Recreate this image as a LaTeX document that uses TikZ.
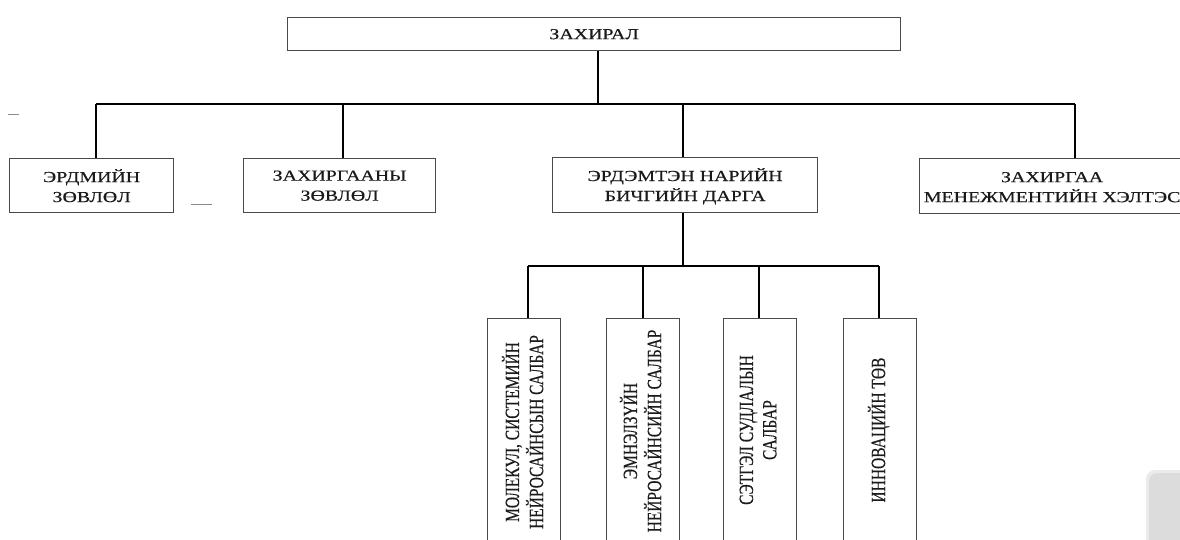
\documentclass[tikz,border=0pt]{standalone}
\usepackage{fontspec}
\setmainfont{Liberation Serif}[FakeStretch=1.3,FakeBold=0.4]
\newfontfamily\plainserif{Liberation Serif}[FakeBold=0.4]
\usepackage{graphicx}
\definecolor{txt}{HTML}{1A1A1A}
\definecolor{bord}{HTML}{4A4A4A}
\definecolor{dashc}{HTML}{8A8A8A}
\definecolor{panel}{HTML}{DCDCDC}
\tikzset{
  box/.style={draw=bord, line width=1.3pt, fill=white},
  conn/.style={draw=black, line width=1.8pt},
  htext/.style={text=txt, font=\fontsize{15.3}{20}\selectfont, align=center, inner sep=0pt},
  vtext/.style={text=txt, inner sep=0pt},
}
\newcommand{\vlabel}[1]{\scalebox{1.3}[1]{\rotatebox{90}{\plainserif\fontsize{15.5}{18}\selectfont\begin{tabular}{@{}c@{}}#1\end{tabular}}}}
\begin{document}
\begin{tikzpicture}[x=1pt,y=-1pt]
\useasboundingbox (0,0) rectangle (1180,540);
\clip (0,0) rectangle (1180,540);
\fill[white] (0,0) rectangle (1180,540);
% top box
\node[box, minimum width=613pt, minimum height=33pt, anchor=north west] (zax) at (287,17) {};
\node[htext] (zaxt) at (zax.center) {ЗАХИРАЛ};
% level 2 boxes
\node[box, minimum width=164pt, minimum height=54pt, anchor=north west] (b1) at (9,158) {};
\node[htext] (b1t) at (b1.center) {ЭРДМИЙН\\ЗӨВЛӨЛ};
\node[box, minimum width=192pt, minimum height=54pt, anchor=north west] (b2) at (243,158) {};
\node[htext] (b2t) at (b2.center) {ЗАХИРГААНЫ\\ЗӨВЛӨЛ};
\node[box, minimum width=265pt, minimum height=55pt, anchor=north west] (b3) at (552,157) {};
\node[htext] (b3t) at ([yshift=-1pt]b3.center) {ЭРДЭМТЭН НАРИЙН\\БИЧГИЙН ДАРГА};
\node[box, minimum width=265pt, minimum height=55pt, anchor=north west] (b4) at (919,158) {};
\node[htext] (b4t) at ([yshift=-1pt]b4.center) {ЗАХИРГАА\\МЕНЕЖМЕНТИЙН ХЭЛТЭС};
% level 3 boxes
\node[box, minimum width=73pt, minimum height=250pt, anchor=north west] (c1) at (487,318) {};
\node[box, minimum width=73pt, minimum height=250pt, anchor=north west] (c2) at (606,318) {};
\node[box, minimum width=73pt, minimum height=250pt, anchor=north west] (c3) at (723,318) {};
\node[box, minimum width=73pt, minimum height=250pt, anchor=north west] (c4) at (843,318) {};
\node[vtext] (c1t) at (526,432) {\vlabel{МОЛЕКУЛ, СИСТЕМИЙН\\НЕЙРОСАЙНСЫН САЛБАР}};
\node[vtext] (c2t) at (644,431) {\vlabel{ЭМНЭЛЗҮЙН\\НЕЙРОСАЙНСИЙН САЛБАР}};
\node[vtext] (c3t) at (760,430) {\vlabel{СЭТГЭЛ СУДЛАЛЫН\\САЛБАР}};
\node[vtext] (c4t) at (880,430) {\vlabel{ИННОВАЦИЙН ТӨВ}};
% bus coordinates
\coordinate (top) at (598,104);
\coordinate (d1) at (96,104);
\coordinate (d2) at (343,104);
\coordinate (d3) at (683,104);
\coordinate (d4) at (1075,104);
\coordinate (s0) at (683,266);
\coordinate (e1) at (528,266);
\coordinate (e2) at (643,266);
\coordinate (e3) at (759,266);
\coordinate (e4) at (879,266);
% connectors
\draw[conn] (top |- zax.south) -- (top);
\draw[conn] (d1) -- (d4);
\draw[conn] (d1) -- (d1 |- b1.north);
\draw[conn] (d2) -- (d2 |- b2.north);
\draw[conn] (d3) -- (d3 |- b3.north);
\draw[conn] (d4) -- (d4 |- b4.north);
\draw[conn] (s0 |- b3.south) -- (s0);
\draw[conn] (e1) -- (e4);
\draw[conn] (e1) -- (e1 |- c1.north);
\draw[conn] (e2) -- (e2 |- c2.north);
\draw[conn] (e3) -- (e3 |- c3.north);
\draw[conn] (e4) -- (e4 |- c4.north);
% stray dashes
\draw[dashc, line width=1pt] (8,115) -- (19,115);
\draw[dashc, line width=1pt] (191,205) -- (212,205);
% grey panel at bottom right
\fill[black!8, rounded corners=9pt] (1146,470) rectangle (1210,570);
\fill[panel, rounded corners=8pt] (1149,473) rectangle (1210,570);
\end{tikzpicture}
\end{document}
